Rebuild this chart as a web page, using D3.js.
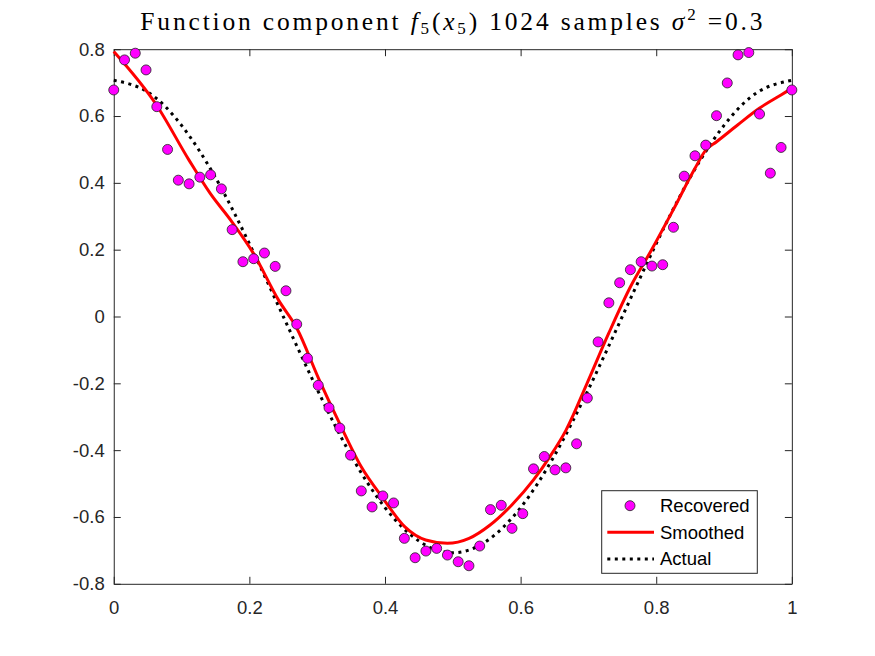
<!DOCTYPE html>
<html>
<head>
<meta charset="utf-8">
<script src="https://cdn.jsdelivr.net/npm/d3@7"></script>
<style>
  body { margin: 0; background: #fff; }
  .tick text { font-family: "Liberation Sans", Arial, sans-serif; font-size: 18.5px; fill: #262626; }
  .legend text { font-family: "Liberation Sans", Arial, sans-serif; font-size: 18.5px; fill: #000; }
</style>
</head>
<body>
<div id="chart"></div>
<script>
// recovered points, evenly spaced on [0,1]
var recovered = [0.678, 0.768, 0.788, 0.738, 0.628, 0.500, 0.408, 0.397, 0.417, 0.424,
  0.382, 0.260, 0.164, 0.173, 0.190, 0.150, 0.077, -0.023, -0.125, -0.206,
  -0.273, -0.334, -0.415, -0.522, -0.570, -0.537, -0.558, -0.664, -0.722, -0.702,
  -0.694, -0.714, -0.734, -0.746, -0.687, -0.578, -0.565, -0.634, -0.590, -0.456,
  -0.419, -0.459, -0.453, -0.381, -0.244, -0.076, 0.041, 0.101, 0.140, 0.164,
  0.151, 0.155, 0.267, 0.420, 0.481, 0.513, 0.601, 0.699, 0.783, 0.790,
  0.606, 0.429, 0.506, 0.678];

// smoothed curve
var smoothX = [0, 0.063, 0.111, 0.142, 0.174, 0.206, 0.243, 0.27, 0.302, 0.333, 0.365,
  0.397, 0.429, 0.46, 0.492, 0.524, 0.555, 0.587, 0.619, 0.643, 0.667, 0.698,
  0.730, 0.762, 0.793, 0.825, 0.857, 0.873, 0.889, 0.920, 0.952, 0.984, 1];
var smoothY = [0.793, 0.633, 0.468, 0.369, 0.284, 0.189, 0.049, -0.035, -0.185, -0.320, -0.450,
  -0.544, -0.629, -0.669, -0.679, -0.664, -0.624, -0.564, -0.489, -0.420, -0.340, -0.200,
  -0.050, 0.089, 0.199, 0.319, 0.443, 0.498, 0.523, 0.573, 0.623, 0.663, 0.683];

// actual curve, read every 0.05
var actualX = [0, 0.05, 0.1, 0.15, 0.2, 0.25, 0.3, 0.35, 0.4, 0.45, 0.5,
  0.55, 0.6, 0.65, 0.7, 0.75, 0.8, 0.85, 0.9, 0.95, 1];
var actualY = [0.707, 0.672, 0.572, 0.416, 0.218, 0, -0.218, -0.416, -0.572, -0.672, -0.707,
  -0.672, -0.572, -0.416, -0.218, 0, 0.218, 0.416, 0.572, 0.672, 0.707];

var xTicks = [0, 0.2, 0.4, 0.6, 0.8, 1];
var yTicks = [-0.8, -0.6, -0.4, -0.2, 0, 0.2, 0.4, 0.6, 0.8];
var legendNames = ["Recovered", "Smoothed", "Actual"];

//svg size and plot box
var svgWidth = 875;
var svgHeight = 656;
var margin = {top: 49.2, left: 113.75};
var width = 678.1;
var height = 534.6;

var svg = d3.select("#chart").append("svg")
    .attr("width", svgWidth)
    .attr("height", svgHeight);

var chartGroup = svg.append("g")
    .attr("transform", `translate(${margin.left}, ${margin.top})`);

var xScale = d3.scaleLinear().domain([0, 1]).range([0, width]);
var yScale = d3.scaleLinear().domain([-0.8, 0.8]).range([height, 0]);

var fmt = d => d === 0 ? "0" : (d === 1 ? "1" : d.toFixed(1));

//axes, ticks pointing inward on all sides
function styleAxis(g) {
    g.selectAll(".domain").attr("stroke", "#262626").attr("stroke-width", 1);
    g.selectAll(".tick line").attr("stroke", "#262626").attr("stroke-width", 1);
}

chartGroup.append("g")
    .attr("transform", `translate(0, ${height})`)
    .call(d3.axisBottom(xScale).tickValues(xTicks).tickFormat(fmt)
        .tickSizeInner(-7).tickSizeOuter(0).tickPadding(17))
    .call(styleAxis);

chartGroup.append("g")
    .call(d3.axisLeft(yScale).tickValues(yTicks).tickFormat(fmt)
        .tickSizeInner(-7).tickSizeOuter(0).tickPadding(9))
    .call(styleAxis);

chartGroup.append("g")
    .call(d3.axisTop(xScale).tickValues(xTicks).tickFormat("")
        .tickSizeInner(-7).tickSizeOuter(0))
    .call(styleAxis);

chartGroup.append("g")
    .attr("transform", `translate(${width}, 0)`)
    .call(d3.axisRight(yScale).tickValues(yTicks).tickFormat("")
        .tickSizeInner(-7).tickSizeOuter(0))
    .call(styleAxis);

chartGroup.selectAll(".tick text").attr("font-family", null).attr("font-size", null);

//actual (dotted black)
var actualLine = d3.line()
    .x((d, i) => xScale(actualX[i]))
    .y(d => yScale(d))
    .curve(d3.curveNatural);

chartGroup.append("path")
    .datum(actualY)
    .attr("fill", "none")
    .attr("stroke", "#000")
    .attr("stroke-width", 3)
    .attr("stroke-dasharray", "3,4.5")
    .attr("d", actualLine);

//smoothed (red)
var smoothLine = d3.line()
    .x((d, i) => xScale(smoothX[i]))
    .y(d => yScale(d))
    .curve(d3.curveMonotoneX);

chartGroup.append("path")
    .datum(smoothY)
    .attr("fill", "none")
    .attr("stroke", "#ff0000")
    .attr("stroke-width", 3)
    .attr("d", smoothLine);

//recovered points
var n = recovered.length;
chartGroup.selectAll("circle.rec")
    .data(recovered)
    .enter()
    .append("circle")
    .classed("rec", true)
    .attr("cx", (d, i) => xScale(i / (n - 1)))
    .attr("cy", d => yScale(d))
    .attr("r", 5)
    .attr("fill", "#ff00ff")
    .attr("stroke", "#222")
    .attr("stroke-width", 0.8);

//legend
var legend = svg.append("g").classed("legend", true)
    .attr("transform", "translate(601.7, 490.7)");

legend.append("rect")
    .attr("width", 155.6)
    .attr("height", 82.6)
    .attr("fill", "#fff")
    .attr("stroke", "#262626")
    .attr("stroke-width", 1);

var rowY = [15, 41.6, 68.3];

legend.append("circle")
    .attr("cx", 28.3).attr("cy", rowY[0]).attr("r", 5)
    .attr("fill", "#ff00ff").attr("stroke", "#222").attr("stroke-width", 0.8);

legend.append("line")
    .attr("x1", 5.6).attr("x2", 52.3).attr("y1", rowY[1]).attr("y2", rowY[1])
    .attr("stroke", "#ff0000").attr("stroke-width", 3);

legend.append("line")
    .attr("x1", 5.6).attr("x2", 52.3).attr("y1", rowY[2]).attr("y2", rowY[2])
    .attr("stroke", "#000").attr("stroke-width", 3).attr("stroke-dasharray", "3,4.5");

legend.selectAll("text")
    .data(legendNames)
    .enter()
    .append("text")
    .attr("x", 58.3)
    .attr("y", (d, i) => rowY[i])
    .attr("dy", "0.35em")
    .text(d => d);

//title in a latex-like serif
var title = svg.append("text")
    .attr("x", margin.left + width / 2)
    .attr("y", 30)
    .attr("text-anchor", "middle")
    .attr("font-family", "'Liberation Serif', 'Times New Roman', serif")
    .attr("font-size", "25.5px")
    .attr("fill", "#000");

title.append("tspan").text("Function component ");
title.append("tspan").attr("font-style", "italic").text("f");
title.append("tspan").attr("font-size", "17px").attr("dy", 4).text("5");
title.append("tspan").attr("dy", -4).text("(");
title.append("tspan").attr("font-style", "italic").text("x");
title.append("tspan").attr("font-size", "17px").attr("dy", 4).text("5");
title.append("tspan").attr("dy", -4).text(") 1024 samples ");
title.append("tspan").attr("font-style", "italic").text("σ");
title.append("tspan").attr("font-size", "17px").attr("dy", -10).text("2");
title.append("tspan").attr("dy", 10).text(" =0.3");

//stretch letter spacing so it spans like the latex title
var tw = title.node().getComputedTextLength();
var chars = title.text().length;
title.attr("letter-spacing", ((625 - tw) / chars).toFixed(2) + "px");
</script>
</body>
</html>
